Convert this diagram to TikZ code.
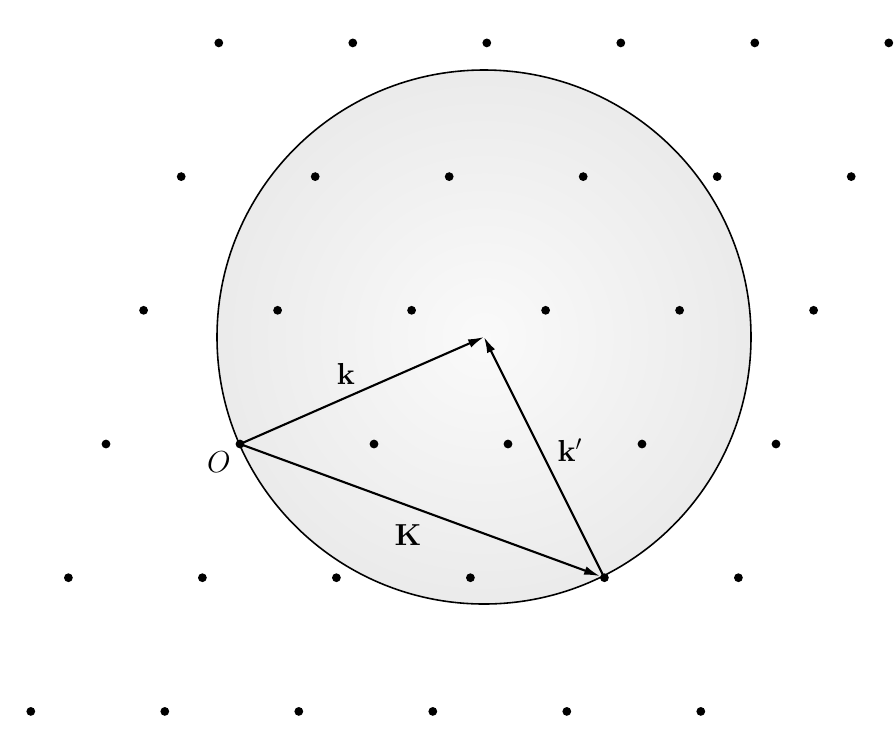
\documentclass[tikz,border=0pt]{standalone}
\usepackage{amssymb,amsmath}
\usepackage{tikz}
\usepackage{xcolor}
\usetikzlibrary{arrows.meta}
\usetikzlibrary{calc}

\tikzset{
  dot/.style={circle, fill=black, inner sep=0pt, minimum size=5pt},
  vec/.style={-{Latex[length=9pt,width=5pt]}, line width=1.2pt},
  lab/.style={font=\LARGE, inner sep=1pt}
}

\begin{document}
\begin{tikzpicture}[x=0.02cm, y=-0.02cm]
% Background (fixes the size)
\fill[white] (0,0) rectangle (895,745);

% Centre of the sphere
\coordinate (C) at (484,337);

% Shaded sphere
\begin{scope}
\clip (C) circle (267);
\shade[inner color=gray!4, outer color=gray!28] (C) circle (534);
\end{scope}
\draw[line width=0.9pt] (C) circle (267);

% Reciprocal lattice (nodes)
\foreach \j in {-3,...,2}
  \foreach \i in {-1,...,4}
    \node[dot] (p\i\j) at ({240+134*\i-37.6*\j},{444+133.7*\j}) {};

% Vectors
\draw[vec] (p00.center) -- (C);
\draw[vec] (p31.center) -- (C);
\draw[vec] (p00.center) -- (p31);

% Labels
\node[lab] (k) at (346,374) {$\mathbf{k}$};
\node[lab] (kp) at (570,450) {$\mathbf{k}'$};
\node[lab] (Kv) at (408,535) {$\mathbf{K}$};
\node[lab] (O) at (219,462) {$O$};
\end{tikzpicture}
\end{document}
